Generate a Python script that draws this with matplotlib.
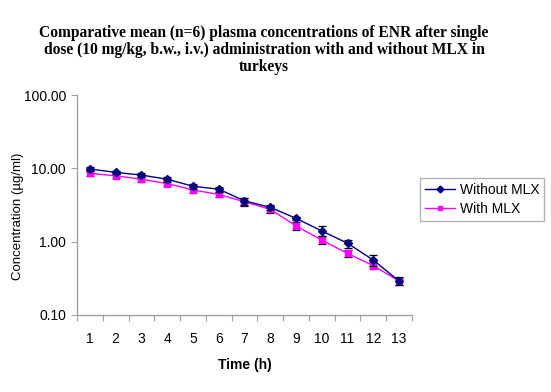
import matplotlib
matplotlib.use("Agg")
import matplotlib.pyplot as plt
from matplotlib.lines import Line2D
import numpy as np

time_h = [1, 2, 3, 4, 5, 6, 7, 8, 9, 10, 11, 12, 13]
without_mlx = [9.8, 8.8, 8.1, 7.1, 5.7, 5.2, 3.6, 2.94, 2.08, 1.40, 0.95, 0.56, 0.29]
without_sd = [0.5, 0.5, 0.5, 0.5, 0.4, 0.4, 0.4, 0.25, 0.12, 0.22, 0.12, 0.09, 0.035]
with_mlx = [8.55, 7.9, 7.1, 6.2, 5.07, 4.4, 3.5, 2.76, 1.64, 1.05, 0.69, 0.47, 0.29]
with_sd = [0.6, 0.5, 0.6, 0.5, 0.45, 0.35, 0.4, 0.3, 0.2, 0.13, 0.07, 0.05, 0.03]
y_ticks = [0.1, 1, 10, 100]
y_labels = ["0.10", "1.00", "10.00", "100.00"]

title = ("Comparative mean (n=6) plasma concentrations of ENR after single\n"
         "dose (10 mg/kg, b.w., i.v.) administration with and without MLX in\n"
         "turkeys")

NAVY = "#000080"
MAG = "#FF00FF"

fig = plt.figure(figsize=(5.51, 3.92), dpi=100)
ax = fig.add_axes([77/551, 1-315/392, (412-77)/551, (315-95)/392])

ax.errorbar(time_h, without_mlx, yerr=without_sd, color=NAVY, lw=1.0,
            marker="D", ms=4, mec=NAVY, mfc=NAVY,
            ecolor="black", elinewidth=0.9, capsize=3, capthick=0.9, zorder=3)
ax.errorbar(time_h, with_mlx, yerr=with_sd, color=MAG, lw=1.0,
            marker="s", ms=4, mec=MAG, mfc=MAG,
            ecolor="black", elinewidth=0.9, capsize=3, capthick=0.9, zorder=2)

ax.set_yscale("log")
ax.set_ylim(0.1, 100)
ax.set_yticks(y_ticks)
ax.set_yticklabels(y_labels)
ax.yaxis.set_minor_locator(matplotlib.ticker.NullLocator())

ax.set_xlim(0.5, 13.5)
ax.set_xticks(np.arange(0.5, 14.0, 1.0))
ax.set_xticklabels([])
ax.set_xticks(time_h, minor=True)
ax.set_xticklabels([str(t) for t in time_h], minor=True)
ax.tick_params(axis="x", which="major", length=4, color="#a0a0a0", direction="out")
ax.tick_params(axis="x", which="minor", length=0, pad=12, labelsize=10)
ax.tick_params(axis="y", which="major", length=4, color="#a0a0a0", direction="out",
               pad=4, labelsize=10)

for s in ["top", "right"]:
    ax.spines[s].set_visible(False)
for s in ["left", "bottom"]:
    ax.spines[s].set_color("#a0a0a0")
    ax.spines[s].set_linewidth(1.0)

for lab in ax.get_xticklabels(minor=True) + ax.get_yticklabels():
    lab.set_family("Liberation Sans")

fig.text(264/551, 1-50/392, title, ha="center", va="center", fontsize=11.2,
         fontweight="bold", family="Liberation Serif", linespacing=1.08)
fig.text((77+412)/2/551, 1-365/392, "Time (h)", ha="center", va="center",
         fontsize=10, fontweight="bold", family="Liberation Sans")
fig.text(18/551, 1-216/392, "Concentration (µg/ml)", ha="center", va="center",
         rotation=90, fontsize=9.5, family="Liberation Sans")

handles = [Line2D([], [], color=NAVY, lw=1.0, marker="D", ms=3.5, mfc=NAVY, mec=NAVY),
           Line2D([], [], color=MAG, lw=1.0, marker="s", ms=3.5, mfc=MAG, mec=MAG)]
leg = fig.legend(handles, ["Without MLX", "With MLX"], loc="upper left",
                 bbox_to_anchor=(420/551, 1-178/392),
                 frameon=True, fancybox=False,
                 edgecolor="#a0a0a0", prop={"family": "Liberation Sans", "size": 10},
                 handlelength=2.2, borderpad=0.35, labelspacing=0.35,
                 handletextpad=0.3, borderaxespad=0)
leg.get_frame().set_linewidth(1.0)

fig.savefig("out.png", dpi=100)
